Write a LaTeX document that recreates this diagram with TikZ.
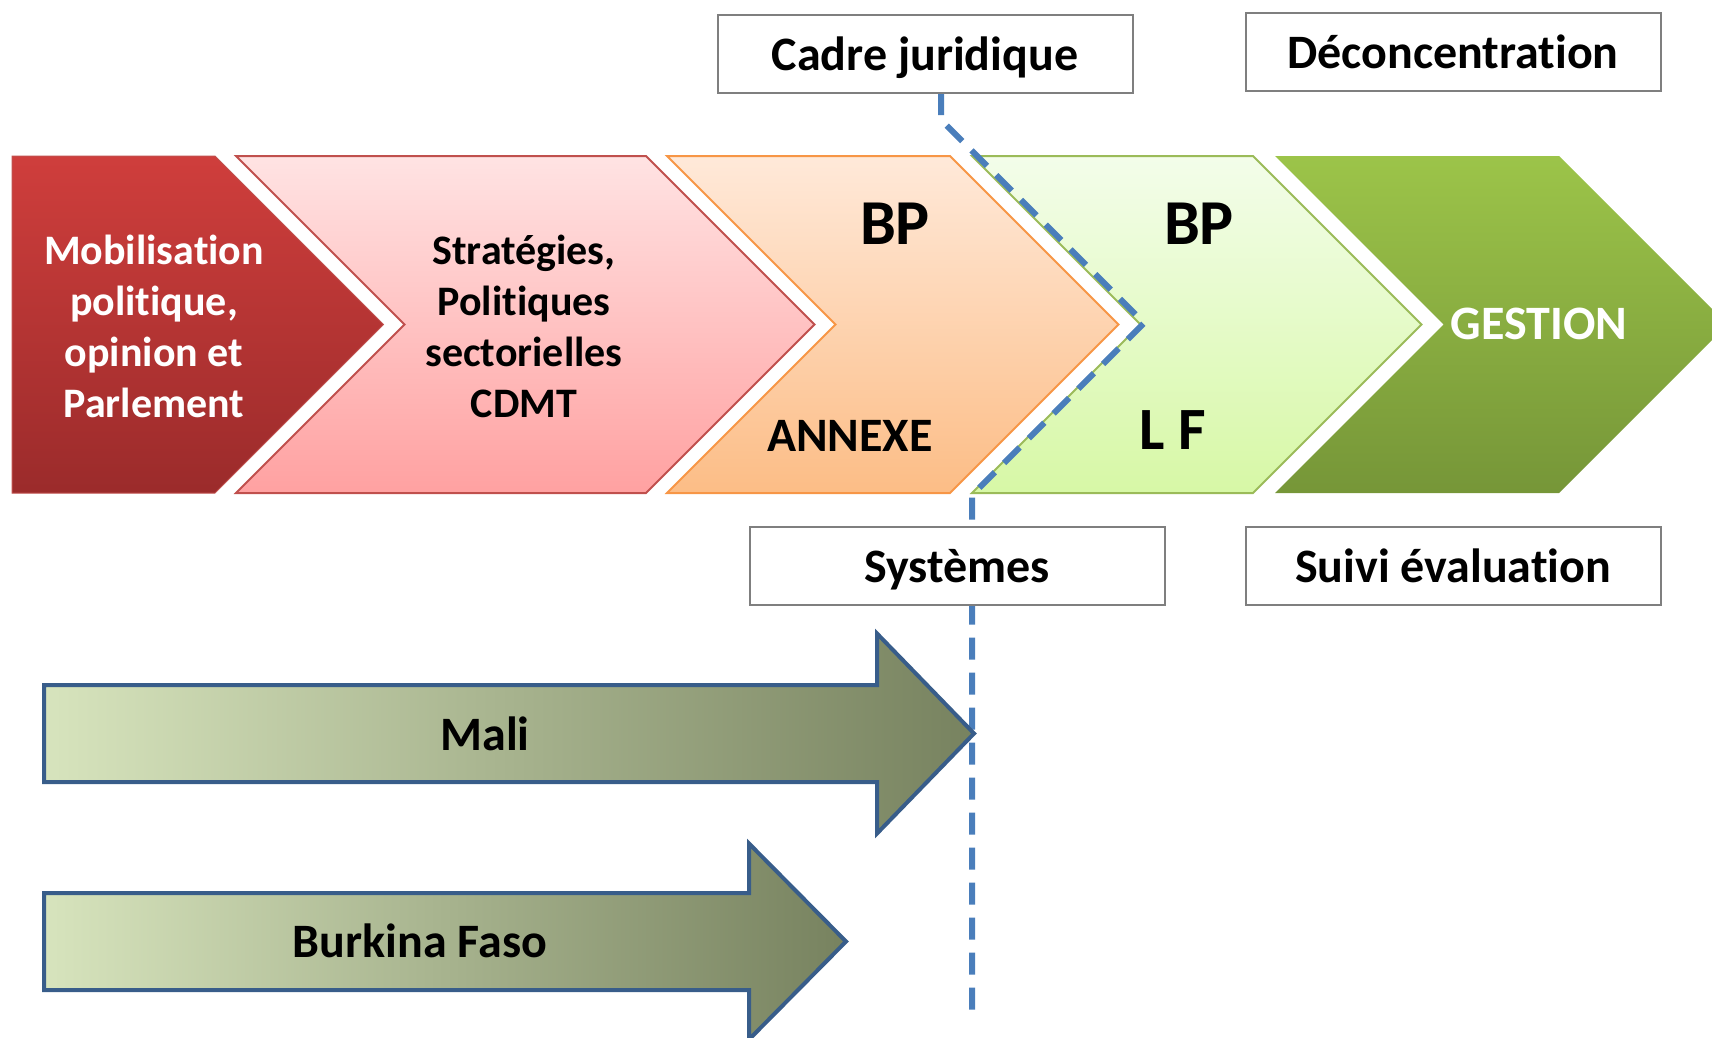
\documentclass[tikz,border=0pt]{standalone}
\usepackage{fontspec}
\setmainfont{Carlito}[Ligatures=CommonOff, RawFeature=-calt]
\usepackage{xcolor}
\usetikzlibrary{arrows.meta, positioning}

\definecolor{redtop}{HTML}{CF3E3C}
\definecolor{redbot}{HTML}{9B2B2B}
\definecolor{pinktop}{HTML}{FFE3E3}
\definecolor{pinkbot}{HTML}{FFA1A1}
\definecolor{pinkline}{HTML}{C0504D}
\definecolor{orangetop}{HTML}{FFE9D9}
\definecolor{orangebot}{HTML}{FCBD86}
\definecolor{orangeline}{HTML}{F79646}
\definecolor{limetop}{HTML}{F3FDEA}
\definecolor{limebot}{HTML}{D7F8A6}
\definecolor{limeline}{HTML}{9BBB59}
\definecolor{greentop}{HTML}{9CC449}
\definecolor{greenbot}{HTML}{769638}
\definecolor{boxgray}{HTML}{7F7F7F}
\definecolor{dashblue}{HTML}{4A7EBB}
\definecolor{arrowline}{HTML}{385D8A}
\definecolor{arrowlight}{HTML}{D7E4BD}
\definecolor{arrowdark}{HTML}{77825F}

\begin{document}
\begin{tikzpicture}[x=1pt, y=-1pt,
  txt/.style={font=\bfseries\fontsize{48}{54}\selectfont, align=center},
  smalltxt/.style={font=\bfseries\fontsize{42}{51}\selectfont, align=center},
  bigtxt/.style={font=\bfseries\fontsize{64}{70}\selectfont},
  infobox/.style={txt, draw=boxgray, line width=2pt, fill=white, minimum width=415pt, minimum height=78pt, inner sep=0pt, text height=37pt, text depth=5pt},
  country/.style={draw=arrowline, line width=4pt, left color=arrowlight, right color=arrowdark},
  dashline/.style={dashblue, line width=6pt, dash pattern=on 22pt off 13pt}]
\useasboundingbox (0,0) rectangle (1712,1037);

% chevrons
\path[top color=redtop, bottom color=redbot, draw=pinkline, line width=1pt]
  (12,156) -- (215,156) -- (383.5,324.5) -- (215,493) -- (12,493) -- cycle;
\path[top color=pinktop, bottom color=pinkbot, draw=pinkline, line width=2pt]
  (236,156) -- (646,156) -- (814.5,324.5) -- (646,493) -- (236,493) -- (404.5,324.5) -- cycle;
\path[top color=orangetop, bottom color=orangebot, draw=orangeline, line width=2pt]
  (667,156) -- (950,156) -- (1118.5,324.5) -- (950,493) -- (667,493) -- (835.5,324.5) -- cycle;
\path[top color=limetop, bottom color=limebot, draw=limeline, line width=2pt]
  (972,156) -- (1253,156) -- (1421.5,324.5) -- (1253,493) -- (972,493) -- (1140.5,324.5) -- cycle;
\path[top color=greentop, bottom color=greenbot]
  (1275,156) -- (1559,156) -- (1727.5,324.5) -- (1559,493) -- (1275,493) -- (1443.5,324.5) -- cycle;

\node[smalltxt, text=white] (mobil) at (154,326) {Mobilisation\\politique,\\opinion et\\Parlement};
\node[smalltxt] (strat) at (524,326) {Stratégies,\\Politiques\\sectorielles\\CDMT};
\node[bigtxt] (bpone) at (895,224) {BP};
\node[txt] (annexe) at (850,436) {ANNEXE};
\node[bigtxt, font=\bfseries\fontsize{60}{66}\selectfont] (lf) at (1173,430) {L F};
\node[bigtxt] (bptwo) at (1199,224) {BP};
\node[txt, text=white] (gestion) at (1539,324) {GESTION};

% dashed limit
\coordinate (d1) at (941,93);
\coordinate (d2) at (941,120);
\coordinate (d3) at (1144,323);
\coordinate (d4) at (972,495);
\coordinate (dend) at (972,1022);
\draw[dashline] (d1) -- (d2) -- (d3) -- (d4) -- (dend);

% boxes
\node[infobox] (cadre) at (925,54) {Cadre juridique};
\node[infobox] (deconc) at (1453,52) {Déconcentration};
\node[infobox] (syst) at (957,566) {Systèmes};
\node[infobox] (suivi) at (1453,566) {Suivi évaluation};

% countries
\path[country] (44,685) -- (877,685) -- (877,633.5) -- (974,733.5) -- (877,833.5) -- (877,782) -- (44,782) -- cycle;
\path[country] (44,893) -- (749,893) -- (749,843.5) -- (846,941.5) -- (749,1039.5) -- (749,990) -- (44,990) -- cycle;
\node[txt] (mali) at (485,734) {Mali};
\node[txt] (burkina) at (420,941) {Burkina Faso};
\end{tikzpicture}
\end{document}
